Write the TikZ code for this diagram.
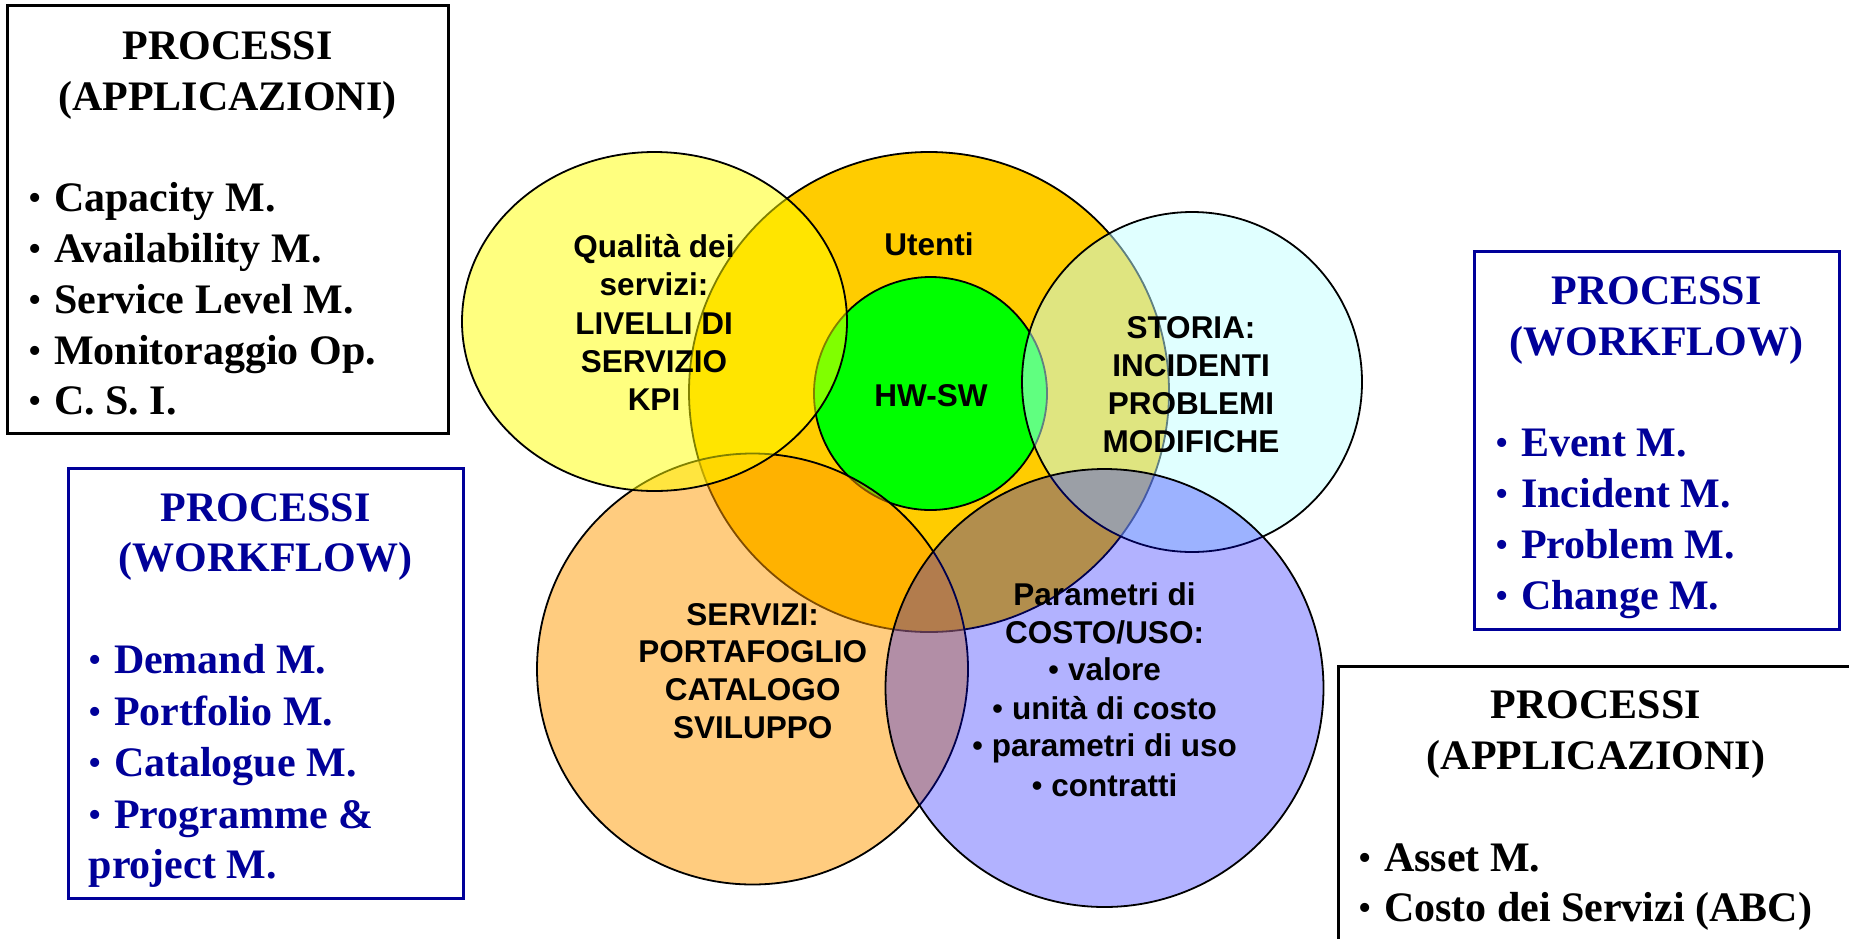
\documentclass[tikz,border=0pt]{standalone}
\usepackage{fontspec}
\setmainfont{Liberation Serif}
\newfontfamily\arialf{Liberation Sans}
\newcommand{\mybul}{{\mdseries\fontsize{38}{38}\selectfont\raisebox{1pt}{•}}\kern1.5pt}
\definecolor{navyc}{RGB}{0,0,153}
\definecolor{orangec}{RGB}{255,204,0}
\definecolor{greenc}{RGB}{0,255,0}
\definecolor{lorangec}{RGB}{255,153,0}
\definecolor{yellowc}{RGB}{255,255,0}
\definecolor{cyanc}{RGB}{193,255,255}
\definecolor{bluec}{RGB}{0,0,255}
\tikzset{
  vt/.style={anchor=base, inner sep=0pt, font=\arialf\bfseries\fontsize{31.5}{38}\selectfont},
  bt/.style={anchor=base, inner sep=0pt, font=\bfseries\fontsize{42}{51}\selectfont},
  bl/.style={anchor=base west, inner sep=0pt, font=\bfseries\fontsize{42}{51}\selectfont},
  kbox/.style={draw=black, line width=3pt, rectangle, inner sep=0pt},
  nbox/.style={draw=navyc, line width=3pt, rectangle, inner sep=0pt},
  venn/.style={draw=black, line width=1.8pt},
}
\begin{document}
\begin{tikzpicture}[x=1pt,y=-1pt]
\useasboundingbox (0,0) rectangle (1849,938);
\clip (0,0) rectangle (1849,938);

% ---- boxes ----
\node[kbox, minimum width=441pt, minimum height=428pt] (box1) at (227.5,219) {};
\node[nbox, minimum width=395pt, minimum height=430pt] (box2) at (265.5,683) {};
\node[nbox, minimum width=365pt, minimum height=378pt] (box3) at (1656.5,440) {};
\node[kbox, minimum width=518pt, minimum height=304pt] (box4) at (1597,818) {};

% ---- Venn shapes ----
\filldraw[venn, fill=orangec] (929,392) circle [radius=240pt];
\filldraw[venn, fill=greenc] (930.5,393.5) circle [radius=116.5pt];
\filldraw[venn, fill=lorangec, fill opacity=0.5] (752.5,669) circle [radius=215.5pt];
\filldraw[venn, fill=yellowc, fill opacity=0.5] (654.5,321.5) ellipse [x radius=192.5pt, y radius=169.5pt];
\filldraw[venn, fill=cyanc, fill opacity=0.5] (1192,382) circle [radius=170pt];
\filldraw[venn, fill=bluec, fill opacity=0.3] (1104.5,688) circle [radius=219pt];

% ---- Venn texts ----
\node[vt] (q1) at (654,257.7) {Qualità dei};
\node[vt] (q2) at (654,295.7) {servizi:};
\node[vt] (q3) at (654,334) {LIVELLI DI};
\node[vt] (q4) at (654,372.3) {SERVIZIO};
\node[vt] (q5) at (654,410.7) {KPI};

\node[vt] (u1) at (929,255) {Utenti};
\node[vt] (h1) at (931,406.5) {HW-SW};

\node[vt] (s1) at (1191,338.3) {STORIA:};
\node[vt] (s2) at (1191,376.7) {INCIDENTI};
\node[vt] (s3) at (1191,414.3) {PROBLEMI};
\node[vt] (s4) at (1191,452.7) {MODIFICHE};

\node[vt] (v1) at (752.7,625) {SERVIZI:};
\node[vt] (v2) at (752.7,662.7) {PORTAFOGLIO};
\node[vt] (v3) at (752.7,700) {CATALOGO};
\node[vt] (v4) at (752.7,738.3) {SVILUPPO};

\node[vt] (p1) at (1104.5,605.7) {Parametri di};
\node[vt] (p2) at (1104.5,643.3) {COSTO/USO:};
\node[vt] (p3) at (1104.5,680.7) {{\mdseries •} valore};
\node[vt] (p4) at (1104.5,719.3) {{\mdseries •} unità di costo};
\node[vt] (p5) at (1104.5,756.7) {{\mdseries •} parametri di uso};
\node[vt] (p6) at (1104.5,796) {{\mdseries •} contratti};

% ---- box 1 texts ----
\node[bt] (a1) at (227.5,59.3) {PROCESSI};
\node[bt] (a2) at (227.5,110) {(APPLICAZIONI)};
\node[bl] (a3) at (28.5,211.7) {\mybul\ Capacity M.};
\node[bl] (a4) at (28.5,262.5) {\mybul\ Availability M.};
\node[bl] (a5) at (28.5,313.3) {\mybul\ Service Level M.};
\node[bl] (a6) at (28.5,364) {\mybul\ Monitoraggio Op.};
\node[bl] (a7) at (28.5,414.8) {\mybul\ C. S. I.};

% ---- box 2 texts ----
\node[bt, text=navyc] (b1) at (265.5,521.7) {PROCESSI};
\node[bt, text=navyc] (b2) at (265.5,571.7) {(WORKFLOW)};
\node[bl, text=navyc] (b3) at (88.5,673.3) {\mybul\ Demand M.};
\node[bl, text=navyc] (b4) at (88.5,725) {\mybul\ Portfolio M.};
\node[bl, text=navyc] (b5) at (88.5,776) {\mybul\ Catalogue M.};
\node[bl, text=navyc] (b6) at (88.5,828.3) {\mybul\ Programme \&};
\node[bl, text=navyc] (b7) at (88.5,878.3) {project M.};

% ---- box 3 texts ----
\node[bt, text=navyc] (c1) at (1656.5,304.3) {PROCESSI};
\node[bt, text=navyc] (c2) at (1656.5,355) {(WORKFLOW)};
\node[bl, text=navyc] (c3) at (1495.5,456.7) {\mybul\ Event M.};
\node[bl, text=navyc] (c4) at (1495.5,507.7) {\mybul\ Incident M.};
\node[bl, text=navyc] (c5) at (1495.5,558.7) {\mybul\ Problem M.};
\node[bl, text=navyc] (c6) at (1495.5,609.7) {\mybul\ Change M.};

% ---- box 4 texts ----
\node[bt] (d1) at (1596,718.3) {PROCESSI};
\node[bt] (d2) at (1596,769.3) {(APPLICAZIONI)};
\node[bl] (d3) at (1358.5,871.7) {\mybul\ Asset M.};
\node[bl] (d4) at (1358.5,921.7) {\mybul\ Costo dei Servizi (ABC)};
\end{tikzpicture}
\end{document}
